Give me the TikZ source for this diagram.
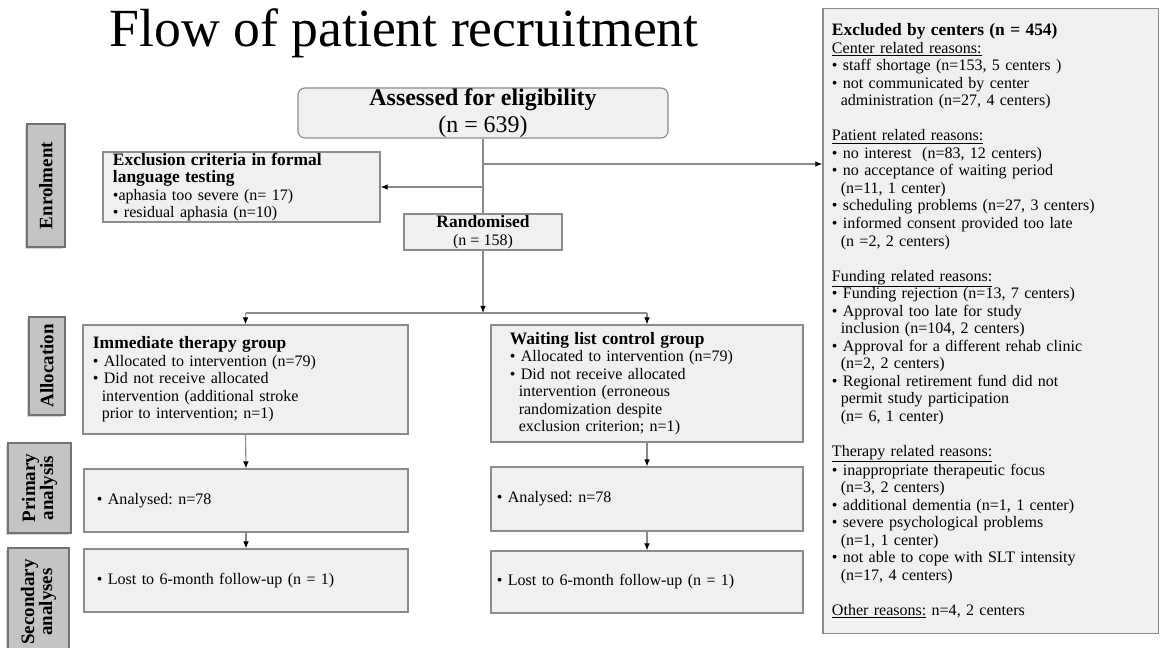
\documentclass[tikz,border=0pt]{standalone}
\usepackage{fontspec}
\setmainfont{Liberation Serif}
\usepackage{tikz}
\usetikzlibrary{arrows.meta}
\usetikzlibrary{shadows}
\definecolor{boxfill}{HTML}{F0F0F0}
\definecolor{boxline}{HTML}{8C8C8C}
\definecolor{phasefill}{HTML}{C4C4C4}
\definecolor{linegray}{HTML}{8A8A8A}
\tikzstyle{box} = [draw=boxline, fill=boxfill, line width=0.8pt, inner ysep=0pt, align=left, font=\fontsize{11.4}{12.45}\selectfont]
\tikzstyle{phase} = [draw=black!55, fill=phasefill, line width=0.8pt, rotate=90, align=center, inner sep=0pt, font=\fontsize{13.5}{12.8}\selectfont\bfseries, drop shadow={shadow xshift=-1.2pt, shadow yshift=-1.2pt, opacity=0.35}]
\tikzstyle{arrow} = [draw=linegray, line width=0.8pt, -{Latex[length=5pt, width=4pt, black]}]
\tikzstyle{link} = [draw=linegray, line width=0.8pt]
\newcommand{\boxhead}[1]{{\fontsize{12.4}{12.45}\selectfont\bfseries #1}}
\newcommand{\contind}{\hspace*{0.55em}}
\frenchspacing

\begin{document}
\begin{tikzpicture}[x=0.025cm, y=-0.025cm]
	\useasboundingbox (0, 0) rectangle (1161, 648);
	\node[anchor=base, font=\fontsize{38.2}{44}\selectfont](title) at (404, 47){Flow of patient recruitment};

	\node[box, rounded corners=5pt, align=center, minimum width=9.25cm, minimum height=1.25cm, font=\fontsize{17}{19}\selectfont](assessed) at (483, 113){\textbf{Assessed for eligibility}\\(n = 639)};
	\node[box, text width=6.425cm, inner xsep=0.25cm, minimum height=1.75cm](exclusion) at (241.5, 187){\boxhead{Exclusion criteria in formal}\\\boxhead{language testing}\\\textbullet aphasia too severe (n= 17)\\\textbullet\ residual aphasia (n=10)};
	\node[box, align=center, minimum width=3.95cm, minimum height=0.9cm](randomised) at (483, 232){\boxhead{Randomised}\\(n = 158)};

	\node[box, text width=7.625cm, inner xsep=0.25cm, minimum height=2.725cm](immediate) at (245.5, 379.5){\boxhead{Immediate therapy group}\\\textbullet\ Allocated to intervention (n=79)\\\textbullet\ Did not receive allocated\\\contind intervention (additional stroke\\\contind prior to intervention; n=1)};
	\node[box, text width=6.85cm, inner xsep=0.475cm, minimum height=2.925cm](waiting) at (647, 383.5){\boxhead{Waiting list control group}\\\textbullet\ Allocated to intervention (n=79)\\\textbullet\ Did not receive allocated\\\contind intervention (erroneous\\\contind randomization despite\\\contind exclusion criterion; n=1)};

	\node[box, text width=7.45cm, inner xsep=0.325cm, minimum height=1.575cm](primL) at (246, 500.5){\textbullet\ Analysed: n=78};
	\node[box, text width=7.45cm, inner xsep=0.325cm, minimum height=1.575cm](secL) at (246, 580.5){\textbullet\ Lost to 6-month follow-up (n = 1)};
	\node[box, text width=7.5cm, inner xsep=0.15cm, minimum height=1.6cm](primR) at (647, 499){\textbullet\ Analysed: n=78};
	\node[box, text width=7.5cm, inner xsep=0.15cm, minimum height=1.55cm](secR) at (647, 582){\textbullet\ Lost to 6-month follow-up (n = 1)};

	\node[box, text width=7.925cm, inner xsep=0.225cm, minimum height=15.6cm](excluded) at (990.5, 321){\boxhead{Excluded by centers (n = 454)}\\
		\underline{Center related reasons:}\\
		\textbullet\ staff shortage (n=153, 5 centers )\\
		\textbullet\ not communicated by center\\
		\contind administration (n=27, 4 centers)\\[\baselineskip]
		\underline{Patient related reasons:}\\
		\textbullet\ no interest\ \ (n=83, 12 centers)\\
		\textbullet\ no acceptance of waiting period\\
		\contind(n=11, 1 center)\\
		\textbullet\ scheduling problems (n=27, 3 centers)\\
		\textbullet\ informed consent provided too late\\
		\contind(n =2, 2 centers)\\[\baselineskip]
		\underline{Funding related reasons:}\\
		\textbullet\ Funding rejection (n=13, 7 centers)\\
		\textbullet\ Approval too late for study\\
		\contind inclusion (n=104, 2 centers)\\
		\textbullet\ Approval for a different rehab clinic\\
		\contind(n=2, 2 centers)\\
		\textbullet\ Regional retirement fund did not\\
		\contind permit study participation\\
		\contind(n= 6, 1 center)\\[\baselineskip]
		\underline{Therapy related reasons:}\\
		\textbullet\ inappropriate therapeutic focus\\
		\contind(n=3, 2 centers)\\
		\textbullet\ additional dementia (n=1, 1 center)\\
		\textbullet\ severe psychological problems\\
		\contind(n=1, 1 center)\\
		\textbullet\ not able to cope with SLT intensity\\
		\contind(n=17, 4 centers)\\[\baselineskip]
		\underline{Other reasons:} n=4, 2 centers};

	\node[phase, minimum width=3.075cm, minimum height=0.95cm](enrolment) at (46, 185.5){Enrolment};
	\node[phase, minimum width=2.45cm, minimum height=0.9cm](allocation) at (47, 366){Allocation};
	\node[phase, minimum width=2.25cm, minimum height=1.575cm](primary) at (39.5, 488){Primary\\analysis};
	\node[phase, minimum width=2.7cm, minimum height=1.525cm](secondary) at (38.5, 602){Secondary\\analyses};

	\coordinate (toexcl) at (483, 164);
	\coordinate (split) at (483, 313);
	\draw[link](assessed.south) -- (randomised.north);
	\draw[arrow](assessed.south |- exclusion.east) -- (exclusion.east);
	\draw[arrow](toexcl) -- (toexcl -| excluded.west);
	\draw[arrow](randomised.south) -- (split);
	\draw[link](split -| immediate.north) -- (split -| waiting.north);
	\draw[arrow](split -| immediate.north) -- (immediate.north);
	\draw[arrow](split -| waiting.north) -- (waiting.north);
	\draw[arrow](immediate.south) -- (primL.north);
	\draw[arrow](waiting.south) -- (primR.north);
	\draw[arrow](primL.south) -- (secL.north);
	\draw[arrow](primR.south) -- (secR.north);
\end{tikzpicture}
\end{document}
